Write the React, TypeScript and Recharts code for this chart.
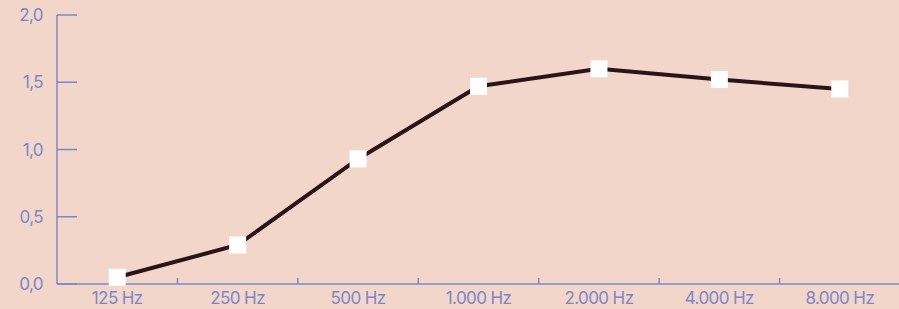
import React from "react";
import { LineChart, Line, XAxis, YAxis } from "recharts";

const bands = ["125 Hz", "250 Hz", "500 Hz", "1.000 Hz", "2.000 Hz", "4.000 Hz", "8.000 Hz"];
const absorption = [0.05, 0.29, 0.93, 1.47, 1.6, 1.52, 1.45];
const yTicks = [0, 0.5, 1, 1.5, 2];

const data = bands.map((band, i) => ({ band, value: absorption[i] }));

const AXIS = "#7b87c8";
const BG = "#f2d6ca";
const LINE = "#2a1418";
const FONT = "Inter, 'Open Sans', sans-serif";

const CHART_W = 900;
const Y_W = 57;
const BAND = (CHART_W - Y_W) / bands.length;

const XTick = (props: any) => {
    const { x, y, payload, index } = props;
    return (
        <g>
            <text
                x={x}
                y={y + 20}
                textAnchor="middle"
                fill={AXIS}
                fontSize={17}
                fontFamily={FONT}
                letterSpacing={-0.6}
            >
                {payload.value}
            </text>
            {index < bands.length - 1 && (
                <line x1={x + BAND / 2} x2={x + BAND / 2} y1={y} y2={y - 6} stroke={AXIS} strokeWidth={1.5} />
            )}
        </g>
    );
};

const YTick = (props: any) => {
    const { x, y, payload } = props;
    return (
        <g>
            <text
                x={x}
                y={y}
                dy="0.36em"
                textAnchor="end"
                fill={AXIS}
                fontSize={17}
                fontFamily={FONT}
                letterSpacing={-0.6}
            >
                {payload.value.toFixed(1).replace(".", ",")}
            </text>
            <line x1={x + 14} x2={x + 34} y1={y} y2={y} stroke={AXIS} strokeWidth={1.5} />
        </g>
    );
};

const SquareDot = (props: any) => {
    const { cx, cy } = props;
    if (cx == null || cy == null) return null;
    return <rect x={cx - 8.5} y={cy - 8.5} width={17} height={17} fill="#ffffff" />;
};

export default function App() {
    return (
        <div
            style={{
                position: "absolute",
                left: 0,
                top: 0,
                width: 899,
                height: 309,
                overflow: "hidden",
                background: BG,
            }}
        >
            <LineChart width={CHART_W} height={309} data={data} margin={{ top: 15, right: 0, bottom: 0, left: 0 }}>
                <XAxis
                    dataKey="band"
                    scale="band"
                    height={25}
                    interval={0}
                    tickSize={0}
                    tickMargin={0}
                    tick={<XTick />}
                    axisLine={{ stroke: AXIS, strokeWidth: 1.5 }}
                    tickLine={false}
                />
                <YAxis
                    width={Y_W}
                    domain={[0, 2]}
                    ticks={yTicks}
                    tickSize={0}
                    tickMargin={14}
                    tick={<YTick />}
                    axisLine={{ stroke: AXIS, strokeWidth: 1.5 }}
                    tickLine={false}
                />
                <Line
                    type="linear"
                    dataKey="value"
                    stroke={LINE}
                    strokeWidth={4}
                    dot={<SquareDot />}
                    activeDot={false}
                    isAnimationActive={false}
                />
            </LineChart>
        </div>
    );
}
